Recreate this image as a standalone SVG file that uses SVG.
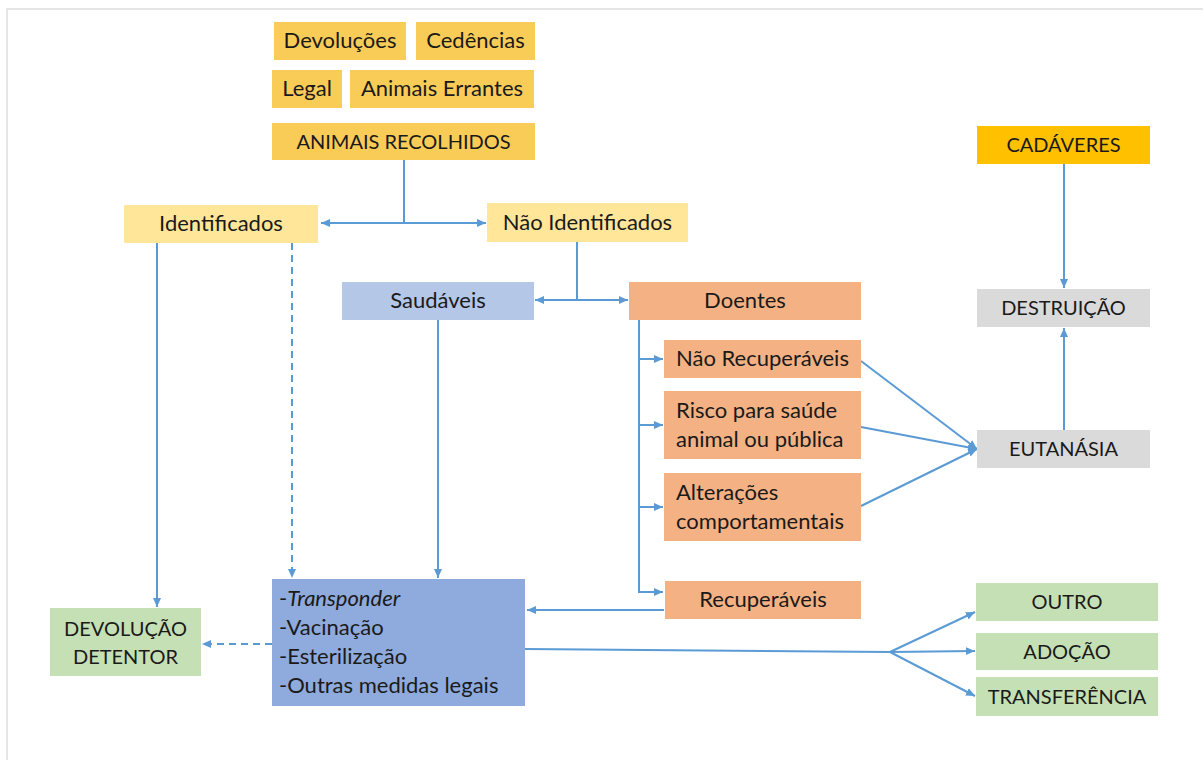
<svg xmlns="http://www.w3.org/2000/svg" width="1203" height="760" viewBox="0 0 1203 760">
<style>
text{font-family:Lato,"Open Sans","DejaVu Sans",sans-serif;font-size:22px;fill:#1a1a1a}
text.k{font-size:20px}
.c{text-anchor:middle}
.ln{fill:none;stroke:#5B9BD5;stroke-width:2}
.ar{marker-end:url(#ah)}
.da{stroke-dasharray:7 5}
.y1{fill:#F9CC58}.y2{fill:#FFE699}.y3{fill:#FFC000}.b1{fill:#B4C7E7}.b2{fill:#8FAADC}.o{fill:#F4B183}.g{fill:#DADADA}.gr{fill:#C5E0B4}
</style>
<defs>
<marker id="ah" markerUnits="userSpaceOnUse" markerWidth="10" markerHeight="10" viewBox="0 0 10 10" refX="9" refY="5" orient="auto">
<path d="M0,1 L9,5 L0,9 Z" fill="#5B9BD5"/>
</marker>
</defs>
<rect width="1203" height="760" fill="#fff"/>
<path d="M7,760 V9 H1203" fill="none" stroke="#E6E6E6" stroke-width="2"/>
<g id="connectors">
<path class="ln" d="M404,160 V223"/>
<path class="ln ar" d="M404,223 H321"/>
<path class="ln ar" d="M404,223 H486"/>
<path class="ln" d="M577,242 V300"/>
<path class="ln ar" d="M577,300 H535"/>
<path class="ln ar" d="M577,300 H628"/>
<path class="ln ar" d="M639,320 V592 H663"/>
<path class="ln ar" d="M639,359 H663"/>
<path class="ln ar" d="M639,425 H663"/>
<path class="ln ar" d="M639,507 H663"/>
<path class="ln ar" d="M664,610 H527"/>
<path class="ln ar" d="M157,243 V607"/>
<path class="ln ar da" d="M292,243 V578"/>
<path class="ln ar" d="M438,320 V578"/>
<path class="ln ar da" d="M272,644 H202"/>
<path class="ln" d="M525,649 L890,652"/>
<path class="ln ar" d="M890,652 L975,612"/>
<path class="ln ar" d="M890,652 L975,651"/>
<path class="ln ar" d="M890,652 L975,696"/>
<path class="ln ar" d="M861,361 L977,449"/>
<path class="ln ar" d="M861,427 L977,449"/>
<path class="ln ar" d="M861,506 L977,449"/>
<path class="ln ar" d="M1064,164 V288"/>
<path class="ln ar" d="M1064,430 V328"/>
</g>
<g id="devolucoes"><rect class="y1" x="274" y="22" width="132" height="38"/><text class="c" x="340" y="48">Devoluções</text></g>
<g id="cedencias"><rect class="y1" x="416" y="22" width="119" height="38"/><text class="c" x="475.5" y="48">Cedências</text></g>
<g id="legal"><rect class="y1" x="272" y="70" width="70" height="38"/><text class="c" x="307" y="96">Legal</text></g>
<g id="errantes"><rect class="y1" x="350" y="70" width="184" height="38"/><text class="c" x="442" y="96">Animais Errantes</text></g>
<g id="recolhidos"><rect class="y1" x="272" y="123" width="263" height="37"/><text class="c k" x="403.5" y="149">ANIMAIS RECOLHIDOS</text></g>
<g id="identificados"><rect class="y2" x="124" y="205" width="194" height="38"/><text class="c" x="221" y="231">Identificados</text></g>
<g id="nao-identificados"><rect class="y2" x="487" y="203" width="201" height="39"/><text class="c" x="587.5" y="230">Não Identificados</text></g>
<g id="saudaveis"><rect class="b1" x="342" y="282" width="192" height="38"/><text class="c" x="438" y="308">Saudáveis</text></g>
<g id="doentes"><rect class="o" x="629" y="282" width="232" height="38"/><text class="c" x="745" y="308">Doentes</text></g>
<g id="nao-recuperaveis"><rect class="o" x="664" y="340" width="197" height="38"/><text x="676" y="366">Não Recuperáveis</text></g>
<g id="risco"><rect class="o" x="664" y="391" width="197" height="68"/><text x="676" y="418">Risco para saúde</text><text x="676" y="447">animal ou pública</text></g>
<g id="alteracoes"><rect class="o" x="664" y="473" width="197" height="68"/><text x="676" y="500">Alterações</text><text x="676" y="529">comportamentais</text></g>
<g id="recuperaveis"><rect class="o" x="665" y="581" width="196" height="38"/><text class="c" x="763" y="607">Recuperáveis</text></g>
<g id="cadaveres"><rect class="y3" x="977" y="126" width="173" height="38"/><text class="c k" x="1063.5" y="152">CADÁVERES</text></g>
<g id="destruicao"><rect class="g" x="977" y="289" width="173" height="38"/><text class="c k" x="1063.5" y="315">DESTRUIÇÃO</text></g>
<g id="eutanasia"><rect class="g" x="977" y="430" width="173" height="38"/><text class="c k" x="1063.5" y="456">EUTANÁSIA</text></g>
<g id="outro"><rect class="gr" x="976" y="583" width="182" height="38"/><text class="c k" x="1067" y="609">OUTRO</text></g>
<g id="adocao"><rect class="gr" x="976" y="633" width="182" height="37"/><text class="c k" x="1067" y="658.5">ADOÇÃO</text></g>
<g id="transferencia"><rect class="gr" x="976" y="677" width="182" height="39"/><text class="c k" x="1067" y="704">TRANSFERÊNCIA</text></g>
<g id="devolucao-detentor"><rect class="gr" x="50" y="608" width="151" height="68"/><text class="c k" x="125.5" y="636">DEVOLUÇÃO</text><text class="c k" x="125.5" y="664">DETENTOR</text></g>
<g id="medidas"><rect class="b2" x="272" y="579" width="253" height="127"/>
<text x="279" y="606">-<tspan font-style="italic">Transponder</tspan></text>
<text x="279" y="635">-Vacinação</text>
<text x="279" y="664">-Esterilização</text>
<text x="279" y="693">-Outras medidas legais</text>
</g>
</svg>
